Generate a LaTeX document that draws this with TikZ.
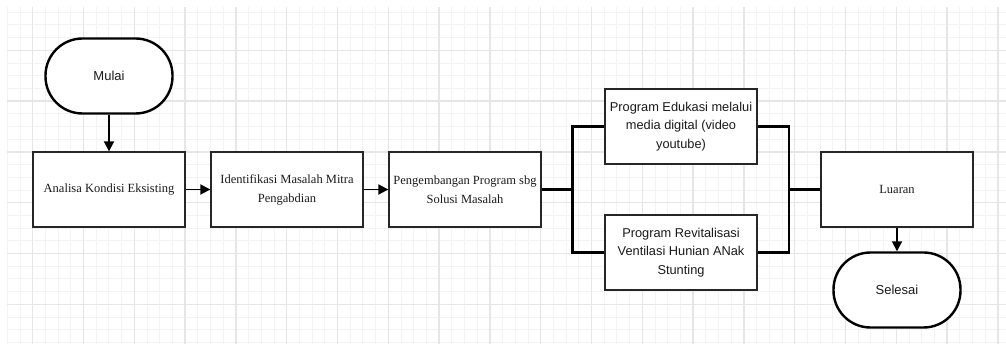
\documentclass[tikz,border=0pt]{standalone}
\usepackage{fontspec}
\setmainfont{Liberation Sans}
\newfontfamily\serifft{Liberation Serif}
\usetikzlibrary{arrows.meta}
\definecolor{gminor}{HTML}{F3F3F3}
\definecolor{gmajor}{HTML}{E6E6E6}
\definecolor{txt}{HTML}{1A1A1A}
\tikzset{
  minorline/.style={draw=gminor, line width=0.9pt},
  majorline/.style={draw=gmajor, line width=1.3pt},
  procbox/.style={draw=black!85, line width=1.3pt, fill=white, minimum width=152pt, minimum height=75pt, inner sep=0pt, align=center, text=txt},
  serifbox/.style={procbox, font=\serifft\fontsize{12.5}{19}\selectfont},
  sansbox/.style={procbox, font=\fontsize{12.8}{18.5}\selectfont},
  term/.style={draw=black, line width=2.4pt, fill=white, rounded corners=37pt, minimum width=127pt, minimum height=75pt, inner sep=0pt, font=\fontsize{13}{15}\selectfont, text=txt},
  flow/.style={draw=black, line width=1.8pt, -{Triangle[length=10pt,width=10pt]}},
  bracket/.style={draw=black, line width=2.6pt},
}
\begin{document}
\begin{tikzpicture}[x=1pt,y=-1pt]
\useasboundingbox (0,0) rectangle (1006,344);
\fill[white] (0,0) rectangle (1006,344);
% grid
\foreach \i in {0,...,79} { \draw[minorline] ({7.3+\i*12.7},7) -- ({7.3+\i*12.7},344); }
\foreach \i in {0,...,27} { \draw[minorline] (7,{12.2+\i*12.7}) -- (1006,{12.2+\i*12.7}); }
\foreach \i in {0,...,19} { \draw[majorline] ({32.7+\i*50.8},7) -- ({32.7+\i*50.8},344); }
\foreach \i in {0,...,5} { \draw[majorline] (7,{50.3+\i*50.8}) -- (1006,{50.3+\i*50.8}); }

\node[term] (mulai) at (109,76) {Mulai};
\node[serifbox] (analisa) at (109,189.5) {Analisa Kondisi Eksisting};
\node[serifbox] (ident) at (287,189.5) {Identifikasi Masalah Mitra\\Pengabdian};
\node[serifbox] (peng) at (465,189.5) {Pengembangan Program sbg\\Solusi Masalah};
\node[sansbox] (edu) at (681,126.5) {Program Edukasi melalui\\media digital (video\\youtube)};
\node[sansbox] (rev) at (681,252.5) {Program Revitalisasi\\Ventilasi Hunian ANak\\Stunting};
\node[serifbox] (luaran) at (897,189.5) {Luaran};
\node[term] (selesai) at (897,290) {Selesai};

\coordinate (jl) at (572.5,189.5);
\coordinate (jr) at (789,189.5);

\draw[flow] (mulai.south) -- (analisa.north);
\draw[flow] (analisa.east) -- (ident.west);
\draw[flow] (ident.east) -- (peng.west);
\draw[bracket] (peng.east) -- (jl);
\draw[bracket] (edu.west) -| (jl) |- (rev.west);
\draw[bracket] (edu.east) -| (jr) |- (rev.east);
\draw[bracket] (jr) -- (luaran.west);
\draw[flow] (luaran.south) -- (selesai.north);
\end{tikzpicture}
\end{document}
